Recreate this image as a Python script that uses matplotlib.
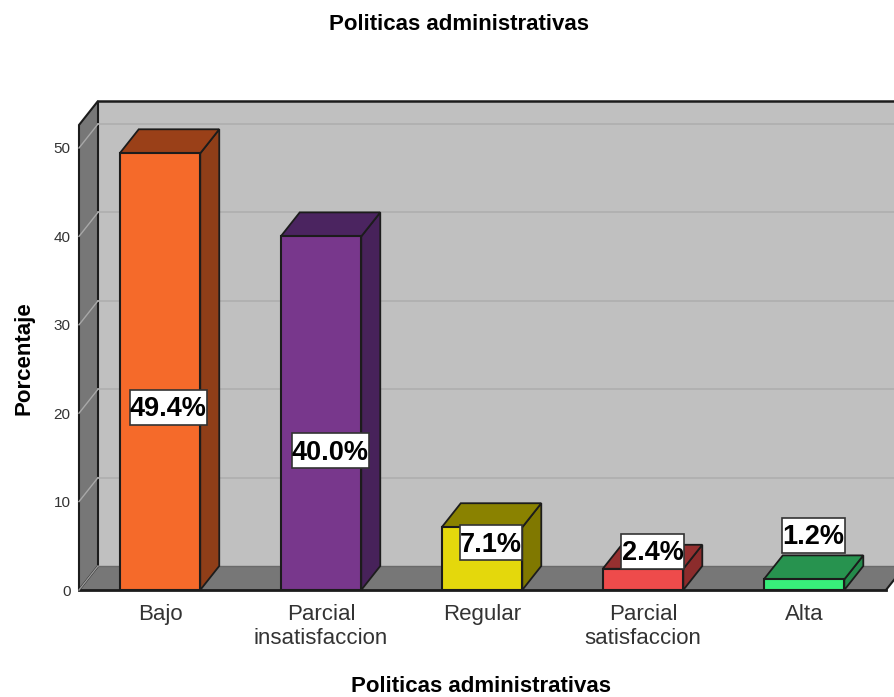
import matplotlib
matplotlib.use('Agg')
import matplotlib.pyplot as plt
from matplotlib.patches import Polygon, Rectangle

plt.rcParams['font.family'] = ['Liberation Sans', 'DejaVu Sans']

# datos
categorias = ['Bajo', 'Parcial\ninsatisfaccion', 'Regular', 'Parcial\nsatisfaccion', 'Alta']
porcentajes = [49.4, 40.0, 7.1, 2.4, 1.2]
etiquetas = ['49.4%', '40.0%', '7.1%', '2.4%', '1.2%']
ticks_y = [0, 10, 20, 30, 40, 50]

# colores de cada barra: frente, tapa, lado
col_frente = ['#F56A2A', '#78378C', '#E4D80C', '#EE4B4B', '#38EE7A']
col_tapa = ['#9A4018', '#4B2460', '#8A8200', '#963030', '#27934F']
col_lado = ['#8F3E18', '#47225A', '#807800', '#8C2C2C', '#248A4A']

W, H = 895, 697
fig = plt.figure(figsize=(W / 100, H / 100), dpi=100)

# plano frontal del grafico en pixeles
x0, x1, y0, y1 = 79, 886, 590, 125
ax = fig.add_axes([x0 / W, 1 - y0 / H, (x1 - x0) / W, (y0 - y1) / H])
ax.set_xlim(-0.503, 4.509)
ax.set_ylim(0, 52.6)
ax.patch.set_visible(False)
for s in ax.spines.values():
    s.set_visible(False)

xmin, xmax = ax.get_xlim()
ymin, ymax = ax.get_ylim()
dx = 19 * (xmax - xmin) / (x1 - x0)  # profundidad 3D
dy = 24 * (ymax - ymin) / (y0 - y1)
borde = '#1c1c1c'


def poligono(puntos, color, z, lw=1.3, ec=borde):
    ax.add_patch(Polygon(puntos, closed=True, fc=color, ec=ec, lw=lw, zorder=z,
                         clip_on=False, joinstyle='miter'))


# paredes y piso
poligono([(xmin + dx, dy), (xmax + dx, dy), (xmax + dx, ymax + dy), (xmin + dx, ymax + dy)],
         '#C0C0C0', 1, lw=0)
poligono([(xmin, 0), (xmin + dx, dy), (xmax + dx, dy), (xmax, 0)], '#777777', 2, lw=0)
poligono([(xmin, 0), (xmin + dx, dy), (xmin + dx, ymax + dy), (xmin, ymax)], '#777777', 2, lw=1.5)
ax.plot([xmin + dx, xmax + dx], [ymax + dy, ymax + dy], color=borde, lw=1.8, zorder=3, clip_on=False)
ax.plot([xmin + dx, xmax + dx], [dy, dy], color='#6A6A6A', lw=1, zorder=3, clip_on=False)
ax.plot([xmin, xmax], [0, 0], color=borde, lw=2, zorder=3, clip_on=False)
ax.plot([xmax, xmax + dx], [0, dy], color=borde, lw=1.5, zorder=3, clip_on=False)

# lineas de la grilla
for t in ticks_y[1:]:
    ax.plot([xmin, xmin + dx], [t, t + dy], color='#A8A8A8', lw=1, zorder=3, clip_on=False)
    ax.plot([xmin + dx, xmax + dx], [t + dy, t + dy], color='#AEAEAE', lw=1.2, zorder=3, clip_on=False)
ax.plot([xmin, xmin + dx], [0, dy], color='#9A9A9A', lw=1, zorder=3, clip_on=False)

# barras
ancho = 0.25
for i, v in enumerate(porcentajes):
    a, b = i - ancho, i + ancho
    poligono([(b, 0), (b + dx, dy), (b + dx, v + dy), (b, v)], col_lado[i], 5)
    poligono([(a, v), (a + dx, v + dy), (b + dx, v + dy), (b, v)], col_tapa[i], 5)
    ax.bar(i, v, width=2 * ancho, color=col_frente[i], edgecolor=borde, linewidth=1.5, zorder=6)

# etiquetas de porcentaje (caja en pixeles)
cx_px = [168.5, 330.5, 491, 652.5, 813.5]
cy_px = [407.5, 450.5, 542.5, 551.5, 535.5]
caja_w = [77, 77, 62, 63, 63]
caja_h = 35
for i, et in enumerate(etiquetas):
    fig.add_artist(Rectangle(((cx_px[i] - caja_w[i] / 2) / W, 1 - (cy_px[i] + caja_h / 2) / H),
                             caja_w[i] / W, caja_h / H, transform=fig.transFigure,
                             fc='white', ec='#333333', lw=1.2, zorder=10))
    fig.text(cx_px[i] / W, 1 - (cy_px[i] + 2) / H, et, ha='center', va='center', fontsize=19.5,
             fontweight='bold', color='black', zorder=11)

ax.set_xticks(range(len(categorias)))
ax.set_xticklabels(categorias, fontsize=16, color='#333333', linespacing=1.2)
ax.set_yticks(ticks_y)
ax.set_yticklabels([str(t) for t in ticks_y], fontsize=11, color='#333333')
ax.tick_params(axis='x', length=0, pad=10)
ax.tick_params(axis='y', length=0, pad=6)

fig.text(459 / W, 1 - 25 / H, 'Politicas administrativas', ha='center', va='center',
         fontsize=16, fontweight='bold')
fig.text(481 / W, 1 - 686 / H, 'Politicas administrativas', ha='center', va='center',
         fontsize=16, fontweight='bold')
fig.text(24 / W, 1 - 358 / H, 'Porcentaje', ha='center', va='center', rotation=90,
         fontsize=16, fontweight='bold')

fig.savefig('out.png', dpi=100)
